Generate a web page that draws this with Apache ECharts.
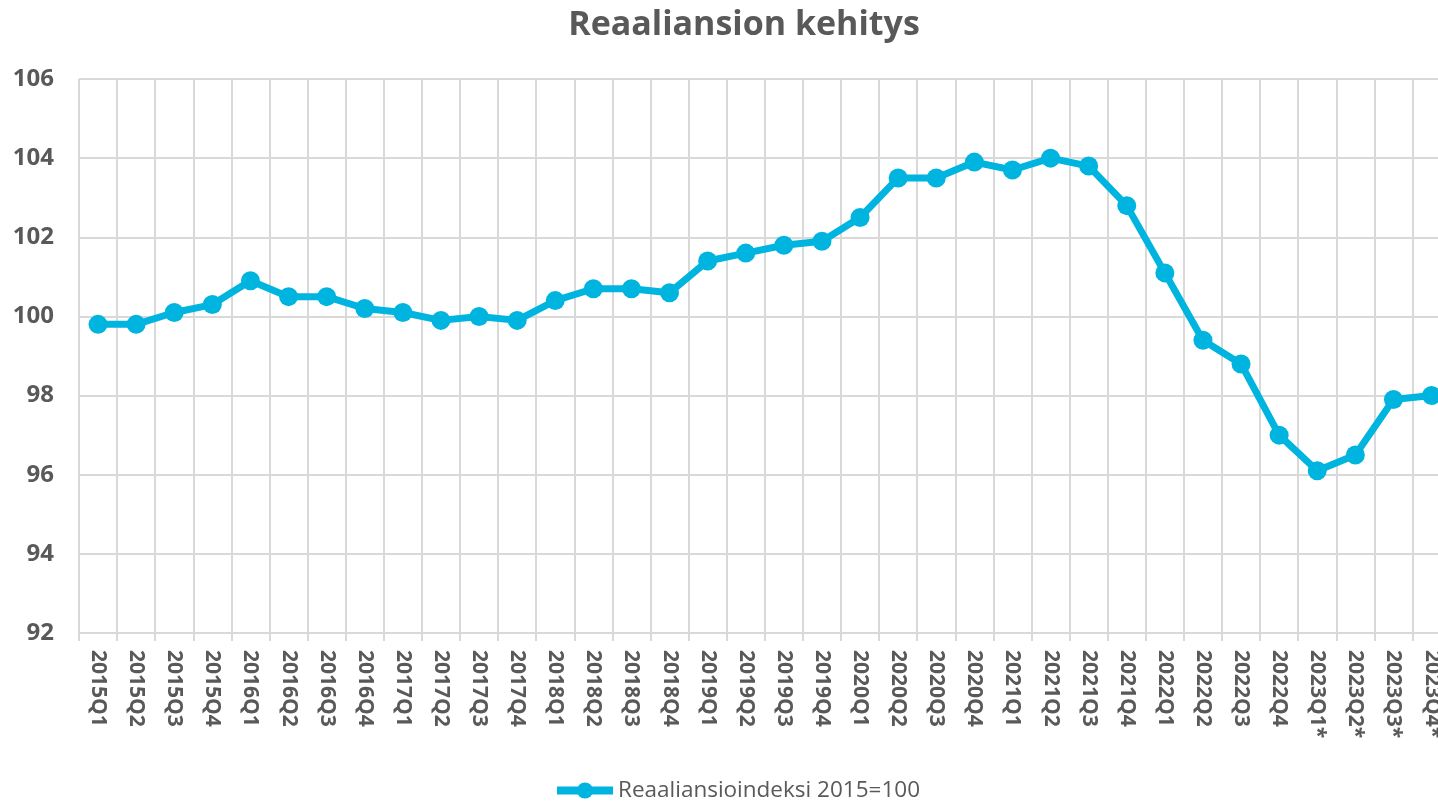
<!DOCTYPE html>
<html>
<head>
<meta charset="utf-8">
<script src="https://cdn.jsdelivr.net/npm/echarts@6/dist/echarts.min.js"></script>
<style>
    html, body {margin: 0; padding: 0; background: #fff;}
    #main {width: 1438px; height: 801px;}
</style>
</head>
<body>
<div id="main"></div>
<script>
// kvartaalit
var quarters = ['2015Q1', '2015Q2', '2015Q3', '2015Q4', '2016Q1', '2016Q2', '2016Q3', '2016Q4',
    '2017Q1', '2017Q2', '2017Q3', '2017Q4', '2018Q1', '2018Q2', '2018Q3', '2018Q4',
    '2019Q1', '2019Q2', '2019Q3', '2019Q4', '2020Q1', '2020Q2', '2020Q3', '2020Q4',
    '2021Q1', '2021Q2', '2021Q3', '2021Q4', '2022Q1', '2022Q2', '2022Q3', '2022Q4',
    '2023Q1*', '2023Q2*', '2023Q3*', '2023Q4*'];

// reaaliansioindeksi 2015=100
var realIndex = [99.8, 99.8, 100.1, 100.3, 100.9, 100.5, 100.5, 100.2,
    100.1, 99.9, 100.0, 99.9, 100.4, 100.7, 100.7, 100.6,
    101.4, 101.6, 101.8, 101.9, 102.5, 103.5, 103.5, 103.9,
    103.7, 104.0, 103.8, 102.8, 101.1, 99.4, 98.8, 97.0,
    96.1, 96.5, 97.9, 98.0];

var seriesName = 'Reaaliansioindeksi 2015=100';
var titleText = 'Reaaliansion kehitys';

var chart = echarts.init(document.getElementById('main'));

var option = {
    animation: false,
    title: {
        text: titleText,
        left: 739,
        textAlign: 'center',
        top: 3,
        textStyle: {
            fontFamily: 'Open Sans',
            fontWeight: 'bold',
            fontSize: 34,
            color: '#595959'
        }
    },
    legend: {
        data: [seriesName],
        bottom: -6,
        left: 548,
        itemWidth: 56,
        itemHeight: 20,
        itemGap: 6,
        lineStyle: {width: 8},
        textStyle: {
            fontFamily: 'Open Sans',
            fontSize: 22.5,
            color: '#595959'
        }
    },
    // plot area runs past the right edge, like in the original
    grid: {
        left: 79,
        top: 79,
        width: 1371.6,
        height: 554,
        containLabel: false,
        outerBoundsMode: 'none'
    },
    xAxis: {
        type: 'category',
        data: quarters,
        boundaryGap: true,
        axisLine: {lineStyle: {color: '#d9d9d9', width: 2}},
        axisTick: {show: true, length: 8, lineStyle: {color: '#d9d9d9', width: 2}},
        splitLine: {show: true, lineStyle: {color: '#d9d9d9', width: 2}},
        axisLabel: {
            rotate: -90,
            interval: 0,
            margin: 17,
            fontFamily: 'Open Sans',
            fontWeight: 'bold',
            fontSize: 21,
            color: '#595959'
        }
    },
    yAxis: {
        type: 'value',
        min: 92,
        max: 106,
        interval: 2,
        axisLine: {show: false},
        axisTick: {show: false},
        splitLine: {lineStyle: {color: '#d9d9d9', width: 2}},
        axisLabel: {
            margin: 25,
            fontFamily: 'Open Sans',
            fontWeight: 'bold',
            fontSize: 24,
            color: '#595959'
        }
    },
    series: [{
        name: seriesName,
        type: 'line',
        data: realIndex,
        symbol: 'circle',
        symbolSize: 19,
        itemStyle: {color: '#00B4E0'},
        lineStyle: {color: '#00B4E0', width: 7}
    }]
};

chart.setOption(option);
</script>
</body>
</html>
